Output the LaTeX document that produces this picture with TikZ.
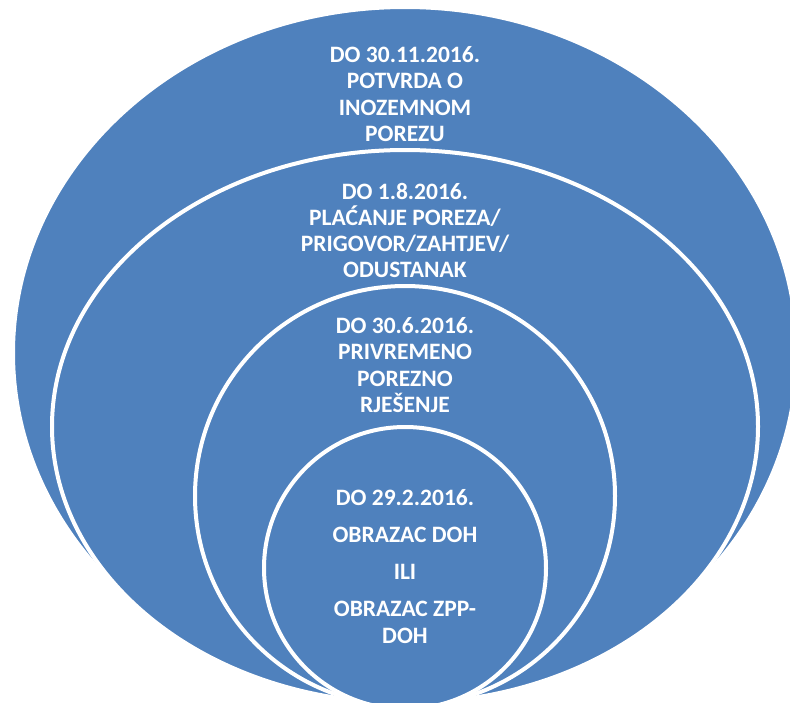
\documentclass[tikz,border=0pt]{standalone}
\usepackage{fontspec}
\setmainfont{Carlito}
\definecolor{fillblue}{RGB}{79,129,189}
\begin{document}
\begin{tikzpicture}[x=1pt,y=-1pt,
  ring/.style={fill=fillblue, draw=white, line width=4pt},
  txt/.style={text=white, font=\fontsize{23.5}{26.3}\selectfont\bfseries, align=center, inner sep=0pt}]
\useasboundingbox (0,0) rectangle (790,702);
\clip (0,0) rectangle (790,702);
\draw[ring] (405,353) ellipse [x radius=392pt, y radius=346pt];
\draw[ring] (405,426.5) ellipse [x radius=353pt, y radius=276.5pt];
\draw[ring] (405,496) ellipse [x radius=210pt, y radius=210pt];
\draw[ring] (405,568) ellipse [x radius=141pt, y radius=141pt];
\node[txt] (t1) at (405,94) {DO 30.11.2016.\\POTVRDA O\\INOZEMNOM\\POREZU};
\node[txt] (t2) at (405,230.5) {DO 1.8.2016.\\PLAĆANJE POREZA/\\PRIGOVOR/ZAHTJEV/\\ODUSTANAK};
\node[txt] (t3) at (405,365) {DO 30.6.2016.\\PRIVREMENO\\POREZNO\\RJEŠENJE};
\node[txt] (t4) at (405,566.5) {DO 29.2.2016.\\[10.7pt]OBRAZAC DOH\\[10.7pt]ILI\\[10.7pt]OBRAZAC ZPP-\\DOH};
\end{tikzpicture}
\end{document}
